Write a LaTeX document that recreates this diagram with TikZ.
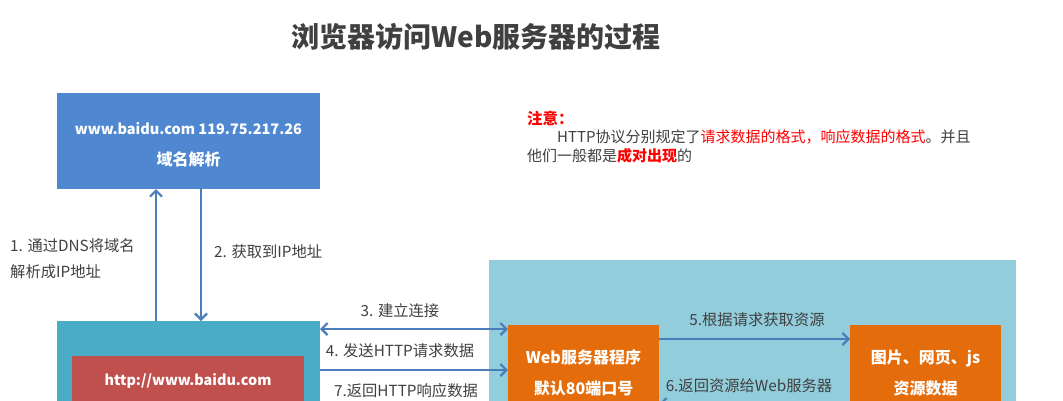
\documentclass[tikz,border=0pt]{standalone}
\usepackage{fontspec}
\setmainfont{Noto Sans CJK SC}
\usetikzlibrary{arrows.meta}
\definecolor{dnsblue}{RGB}{79,136,208}
\definecolor{arrowblue}{RGB}{74,126,187}
\definecolor{teal}{RGB}{75,172,198}
\definecolor{urlred}{RGB}{192,80,77}
\definecolor{lightblue}{RGB}{146,205,220}
\definecolor{orangebox}{RGB}{228,108,10}
\definecolor{textgray}{RGB}{64,64,64}
\definecolor{notered}{RGB}{255,0,0}
\tikzset{
  box/.style={rectangle, inner sep=0pt, outer sep=0pt, draw=none},
  boxtext/.style={text=white, font=\fontsize{16}{31}\selectfont\bfseries, align=center, inner sep=0pt},
  lbl/.style={text=textgray, font=\fontsize{15.3}{26}\selectfont, inner sep=0pt, align=left},
  conn/.style={draw=arrowblue, line width=2.2pt, -{Straight Barb[length=6pt,width=12pt,line width=2.2pt]}},
  conn2/.style={draw=arrowblue, line width=2.2pt, {Straight Barb[length=6pt,width=12pt,line width=2.2pt]}-{Straight Barb[length=6pt,width=12pt,line width=2.2pt]}},
}
\begin{document}
\begin{tikzpicture}[x=1pt,y=-1pt]
\clip (0,0) rectangle (1063,400);
\fill[white] (0,0) rectangle (1063,400);
% title
\node[text=textgray, font=\fontsize{28}{34}\selectfont\bfseries, inner sep=0pt] (title) at (476,37) {浏览器访问Web服务器的过程};
% DNS box
\node[box, fill=dnsblue, minimum width=263pt, minimum height=96pt] (dns) at (188.5,141) {};
\node[boxtext] (dnstext) at (188.5,145) {{\fontsize{14.5}{31}\selectfont www.baidu.com 119.75.217.26}\\域名解析};
% browser box
\node[box, fill=teal, minimum width=263pt, minimum height=119pt] (browser) at (188.5,380.5) {};
\node[box, fill=urlred, minimum width=232pt, minimum height=84pt] (url) at (188,398) {};
\node[boxtext, font=\fontsize{14.4}{31}\selectfont\bfseries] (urltext) at (188,381) {http://www.baidu.com};
% server region
\node[box, fill=lightblue, minimum width=527pt, minimum height=180pt] (server) at (752.5,350) {};
\node[box, fill=orangebox, minimum width=151pt, minimum height=115pt] (web) at (583.5,382.5) {};
\node[boxtext] (webtext) at (583.5,372.5) {Web服务器程序\\默认80端口号};
\node[box, fill=orangebox, minimum width=151pt, minimum height=115pt] (res) at (925.5,382.5) {};
\node[boxtext] (restext) at (925.5,373) {图片、网页、js\\资源数据};
% helper coordinates
\coordinate (x1) at (156,0);
\coordinate (x2) at (201,0);
\coordinate (y3) at (0,329);
\coordinate (y4) at (0,370);
\coordinate (y5) at (0,339);
\coordinate (y6) at (0,404);
% connectors
\draw[conn] (browser.north -| x1) -- (dns.south -| x1);
\draw[conn] (dns.south -| x2) -- (browser.north -| x2);
\draw[conn2] (browser.east |- y3) -- (web.west |- y3);
\draw[conn] (browser.east |- y4) -- (web.west |- y4);
\draw[conn] (web.east |- y5) -- (res.west |- y5);
\draw[conn] (res.west |- y6) -- (web.east |- y6);
% labels
\node[lbl, anchor=west] (l1) at (10,259) {1. 通过DNS将域名\\解析成IP地址};
\node[lbl, anchor=west] (l2) at (214,252) {2. 获取到IP地址};
\node[lbl] (l3) at (400,311) {3. 建立连接};
\node[lbl] (l4) at (400,351) {4. 发送HTTP请求数据};
\node[lbl] (l7) at (406,391) {7.返回HTTP响应数据};
\node[lbl] (l5) at (757,320) {5.根据请求获取资源};
\node[lbl] (l6) at (749,386) {6.返回资源给Web服务器};
% note
\node[text=notered, font=\fontsize{15.5}{19}\selectfont\bfseries, inner sep=0pt, anchor=west] (n1) at (527,118) {注意：};
\node[text=textgray, font=\fontsize{15}{19}\selectfont, inner sep=0pt, anchor=west] (n2) at (557,137) {HTTP协议分别规定了{\color{notered}请求数据的格式，响应数据的格式}。并且};
\node[text=textgray, font=\fontsize{15}{19}\selectfont, inner sep=0pt, anchor=west] (n3) at (527,156) {他们一般都是{\color{notered}\bfseries 成对出现}的};
\end{tikzpicture}
\end{document}
